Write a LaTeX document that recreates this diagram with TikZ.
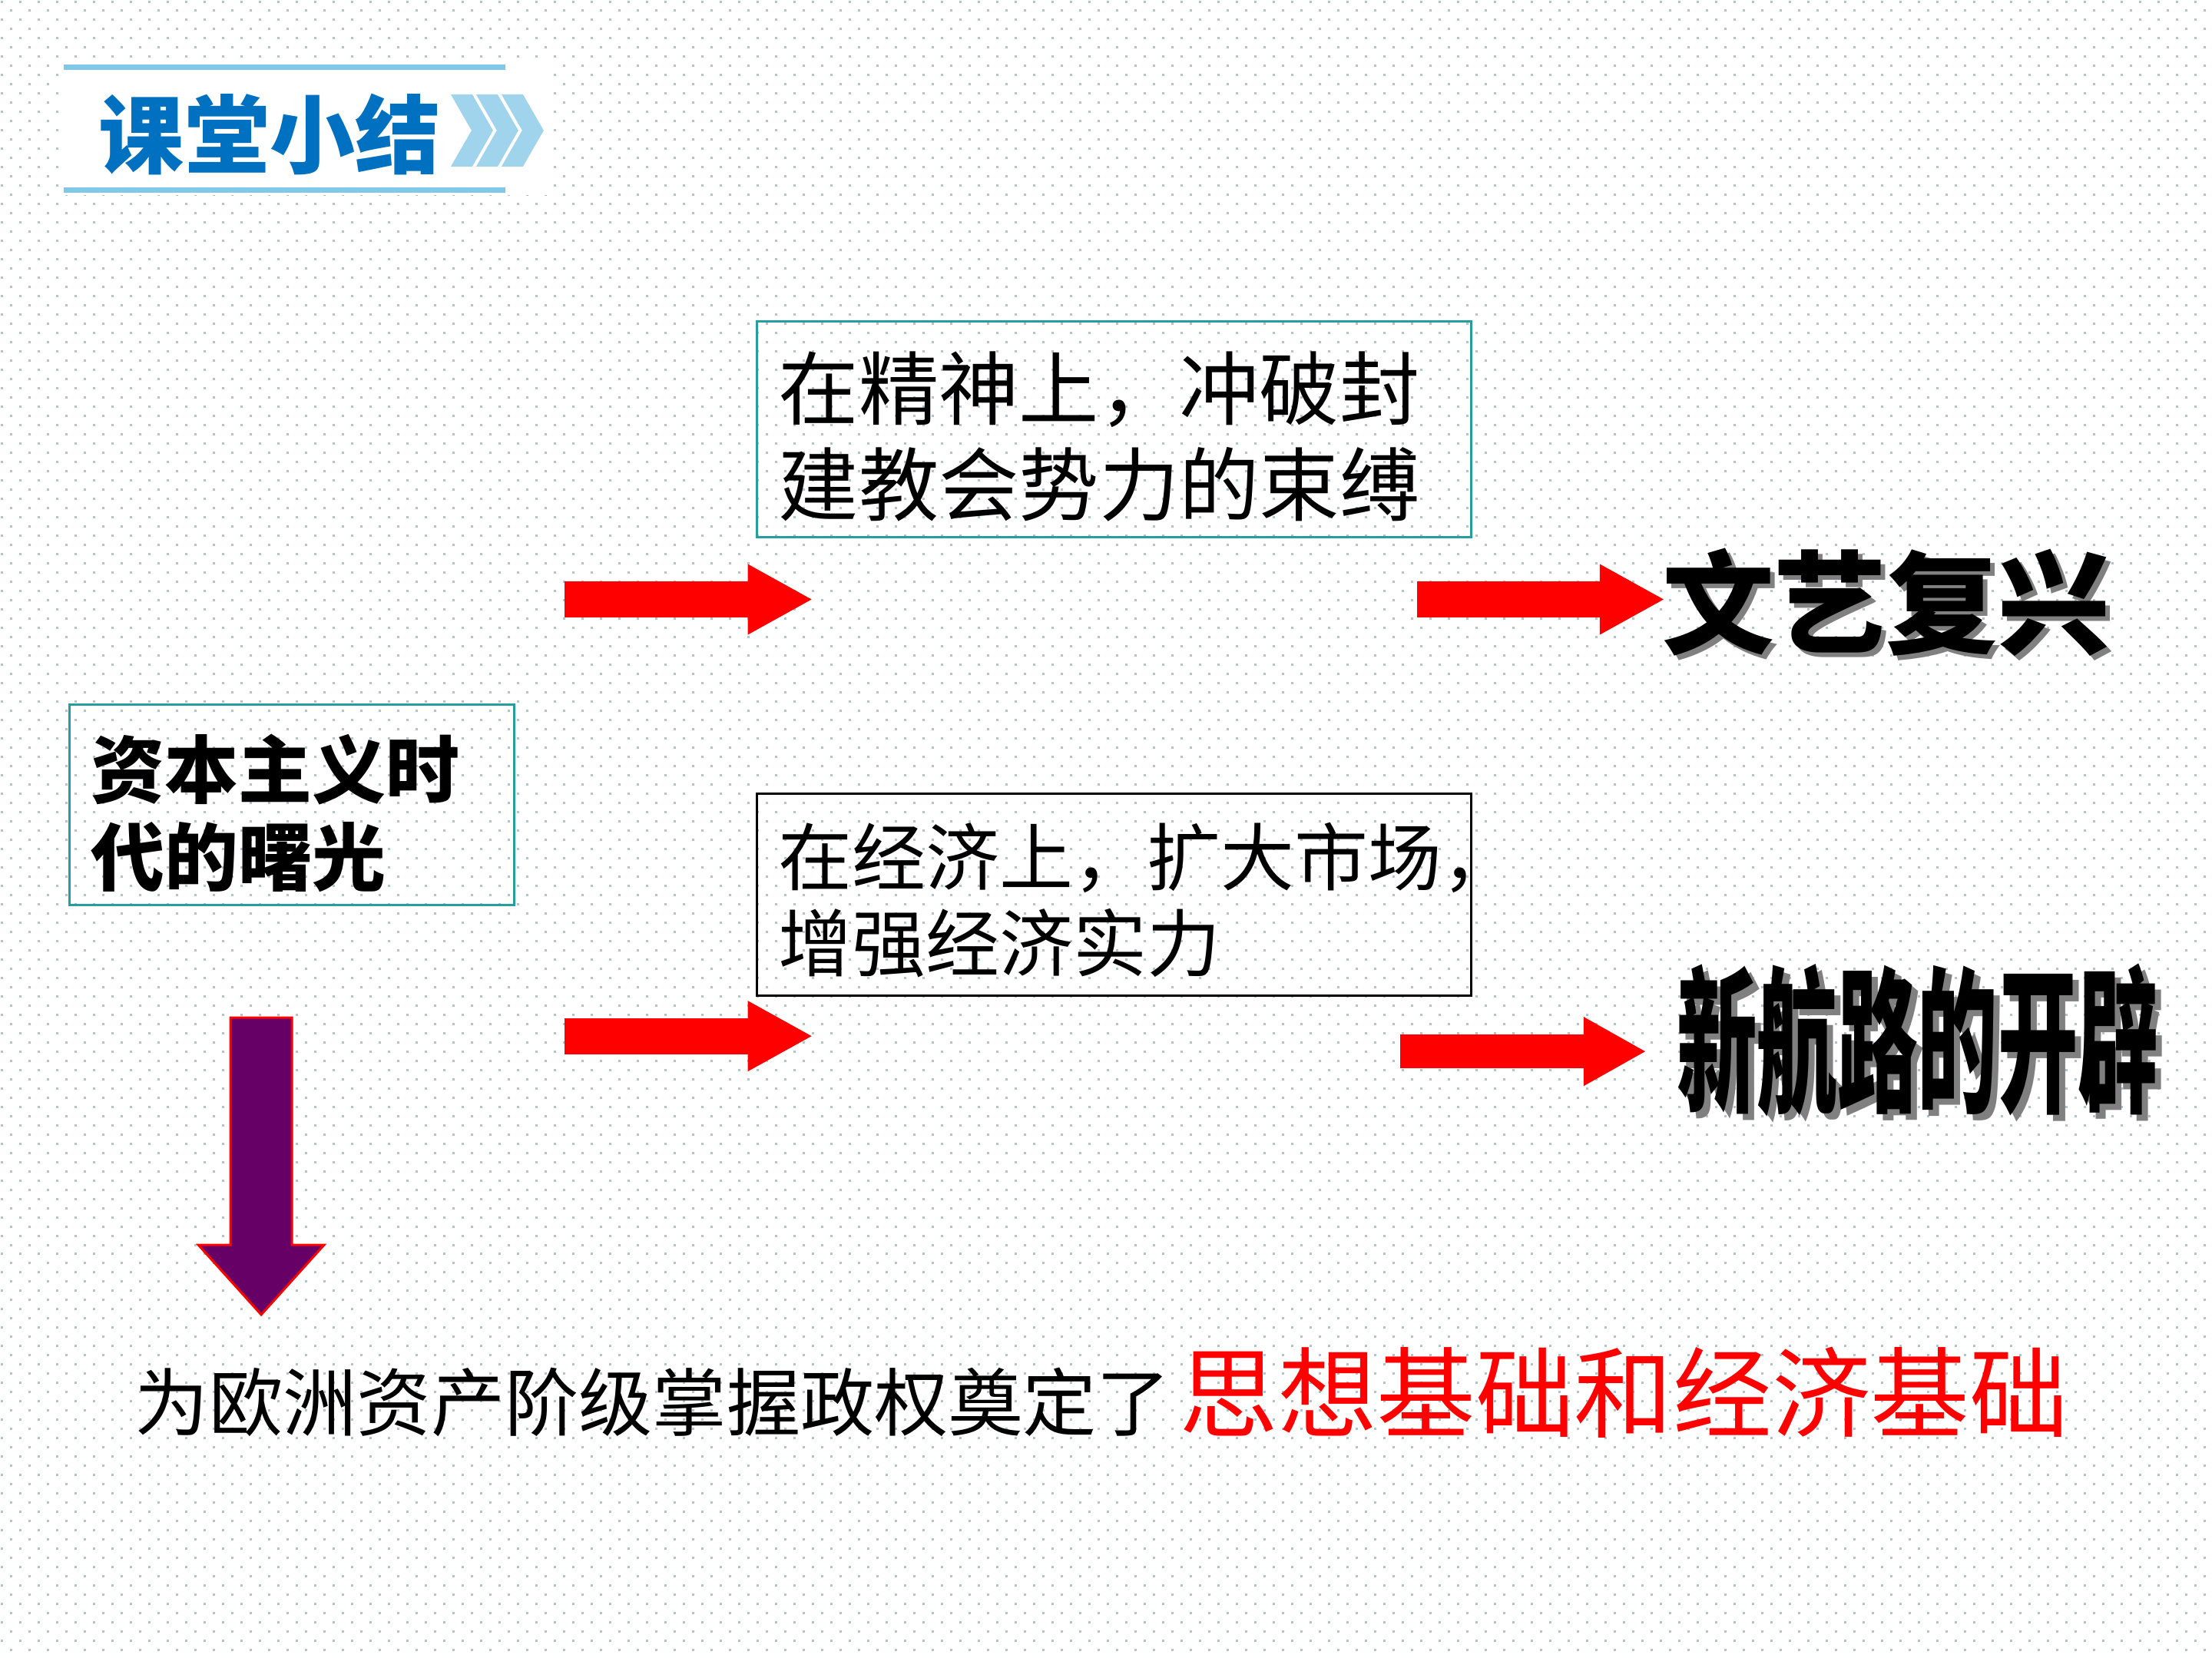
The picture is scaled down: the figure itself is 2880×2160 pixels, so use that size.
\documentclass[tikz,border=0pt]{standalone}
\usepackage{fontspec}
\setmainfont{Noto Sans CJK SC}
\newfontfamily\cjkheavy{Noto Sans CJK SC Black}
\usetikzlibrary{arrows.meta,positioning}
\definecolor{dotgray}{RGB}{166,199,204}
\definecolor{titleblue}{RGB}{0,112,192}
\definecolor{lineblue}{RGB}{128,200,234}
\definecolor{chevblue}{RGB}{160,212,236}
\definecolor{boxteal}{RGB}{38,158,160}
\definecolor{shadowgray}{RGB}{128,128,128}
\definecolor{deeppurple}{RGB}{102,0,102}
\tikzset{
  box/.style={draw=boxteal,line width=0.03cm,inner sep=0pt},
  boxtext/.style={inner xsep=0.29cm,inner ysep=0pt,align=left,anchor=west},
  redarrow/.style={draw=red,line width=0.47cm,-{Triangle[length=0.83cm,width=0.92cm,line width=0pt]}},
  dotrow/.style={draw=dotgray,line width=0.03cm,dash pattern=on 0.03cm off 0.21cm},
  heavy/.style={inner sep=0,font=\cjkheavy\fontsize{#1}{#1}\selectfont},
}

\begin{document}
\begin{tikzpicture}[x=0.01cm,y=-0.01cm]
\fill[white] (0,0) rectangle (2880,2160);
% dotted paper
\foreach \k in {0,...,179}{
  \pgfmathsetmacro{\dy}{2+12*\k}
  \pgfmathsetmacro{\dx}{1.2+12*mod(\k,2)}
  \draw[dotrow] (\dx,\dy) -- (2880,\dy);
}
\useasboundingbox (0,0) rectangle (2880,2160);

% title
\fill[white] (80,84) rectangle (712,254);
\draw[lineblue,line width=0.07cm] (83,88) -- (658,88);
\draw[lineblue,line width=0.07cm] (83,248) -- (658,248);
\node[inner sep=0,text=titleblue,font=\bfseries\fontsize{31.6pt}{38pt}\selectfont] (title) at (351,175) {课堂小结};
\foreach \o in {0,33,66}
  \fill[chevblue] (587+\o,123) -- ++(28,0) -- ++(27,47) -- ++(-27,47) -- ++(-28,0) -- ++(27,-47) -- cycle;

% boxes
\node[box,minimum width=5.79cm,minimum height=2.61cm] (dawn) at (379.5,1048.5) {};
\node[boxtext,font=\bfseries\fontsize{27.3pt}{32.4pt}\selectfont] (dawn-text)
  at ([yshift=-0.11cm]dawn.west) {资本主义时\\代的曙光};
\node[box,minimum width=9.30cm,minimum height=2.81cm] (spirit) at (1451,559.5) {};
\node[boxtext,font=\fontsize{29.7pt}{35.6pt}\selectfont] (spirit-text)
  at ([yshift=-0.09cm]spirit.west) {在精神上，冲破封\\建教会势力的束缚};
\node[box,draw=black,minimum width=9.30cm,minimum height=2.63cm] (economy) at (1451,1165.5) {};
\node[boxtext,font=\fontsize{27.3pt}{31.9pt}\selectfont] (economy-text)
  at ([yshift=-0.07cm]economy.west) {在经济上，扩大市场，\\增强经济实力};

% red arrows
\coordinate (a1s) at (735,781);  \coordinate (a1e) at (1057,781);
\coordinate (a2s) at (735,1350); \coordinate (a2e) at (1057,1350);
\coordinate (a3s) at (1846,781); \coordinate (a3e) at (2167,781);
\coordinate (a4s) at (1824,1370); \coordinate (a4e) at (2143,1370);
\draw[redarrow] (a1s) -- (a1e);
\draw[redarrow] (a2s) -- (a2e);
\draw[redarrow] (a3s) -- (a3e);
\draw[redarrow,line width=0.44cm,-{Triangle[length=0.80cm,width=0.90cm,line width=0pt]}] (a4s) -- (a4e);

% results
\node[heavy=41.5pt,text=shadowgray] (renaissance-sh) at (2463,791) {文艺复兴};
\node[heavy=41.5pt] (renaissance) at (2457,785) {文艺复兴};
\node[heavy=58.3pt,text=shadowgray] (routes-sh) at (2506,1363) {\scalebox{0.51}[1]{新航路的开辟}};
\node[heavy=58.3pt] (routes) at (2498,1355) {\scalebox{0.51}[1]{新航路的开辟}};

% down arrow
\draw[fill=deeppurple,draw=red,line width=0.03cm] (300,1326) -- (380,1326) -- (380,1622) -- (422,1622)
  -- (340,1713) -- (258,1622) -- (300,1622) -- cycle;

% conclusion
\node[inner sep=0,anchor=west,font=\fontsize{27.4pt}{32pt}\selectfont] (basis) at (175,1827) {为欧洲资产阶级掌握政权奠定了};
\node[inner sep=0,anchor=base west,xshift=0.1cm,text=red,font=\fontsize{36.6pt}{43pt}\selectfont] (twofold) at (basis.base east) {思想基础和经济基础};
\end{tikzpicture}
\end{document}
